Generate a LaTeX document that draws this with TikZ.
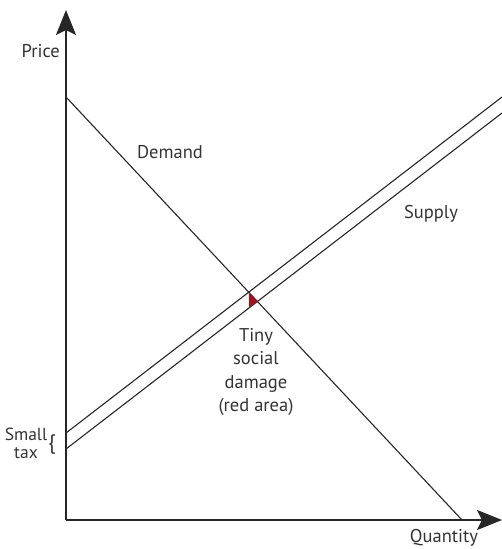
\documentclass[tikz,border=0pt]{standalone}
\usepackage{fontspec}
\setmainfont{PT Sans}
\usetikzlibrary{arrows.meta}
\definecolor{damagered}{RGB}{160,20,30}
\tikzset{
  axis/.style={line width=2pt, draw=black!85, -{Stealth[length=25pt,width=20pt,inset=5pt]}},
  curve/.style={line width=1.1pt, draw=black!85},
  lbl/.style={font=\fontsize{18.5}{23.3}\selectfont, text=black!80, inner sep=0pt}
}
\begin{document}
\begin{tikzpicture}[x=1pt,y=-1pt]
        \useasboundingbox (0,0) rectangle (502,549);
        % Axes
        \coordinate (origin) at (66,520);
        \coordinate (ptop) at (66,10);
        \coordinate (qend) at (502,520);
        \draw[axis] (origin) -- (ptop);
        \draw[axis] (origin) -- (qend);
        % Demande
        \coordinate (d0) at (66,97);
        \coordinate (d1) at (462,520);
        \draw[curve] (d0) -- (d1);
        % Offre (avec et sans taxe)
        \coordinate (s0) at (66,449);
        \coordinate (s1) at (502,113);
        \coordinate (t0) at (66,433);
        \coordinate (t1) at (502,97);
        \draw[curve] (s0) -- (s1);
        \draw[curve] (t0) -- (t1);
        % Petit triangle rouge
        \fill[damagered] (248.8,292.3) -- (248.8,307.3) -- (257.5,301.5) -- cycle;
        % Textes
        \node[lbl, anchor=base east] (price) at (60,57) {Price};
        \node[lbl, anchor=base] (demand) at (170,158) {Demand};
        \node[lbl, anchor=base] (supply) at (431,218) {Supply};
        \node[lbl, align=center] (damage) at (256,372) {Tiny\\social\\damage\\(red area)};
        \node[lbl, font=\fontsize{17.5}{18}\selectfont, anchor=base] (small) at (26,440) {Small};
        \node[lbl, font=\fontsize{17.5}{18}\selectfont, anchor=base] (tax) at (26,458) {tax};
        \node[lbl, font=\fontsize{21}{21}\selectfont] (brace) at (52,445) {\{};
        \node[lbl, anchor=base] (quantity) at (444,542) {Quantity};
    \end{tikzpicture}
\end{document}
